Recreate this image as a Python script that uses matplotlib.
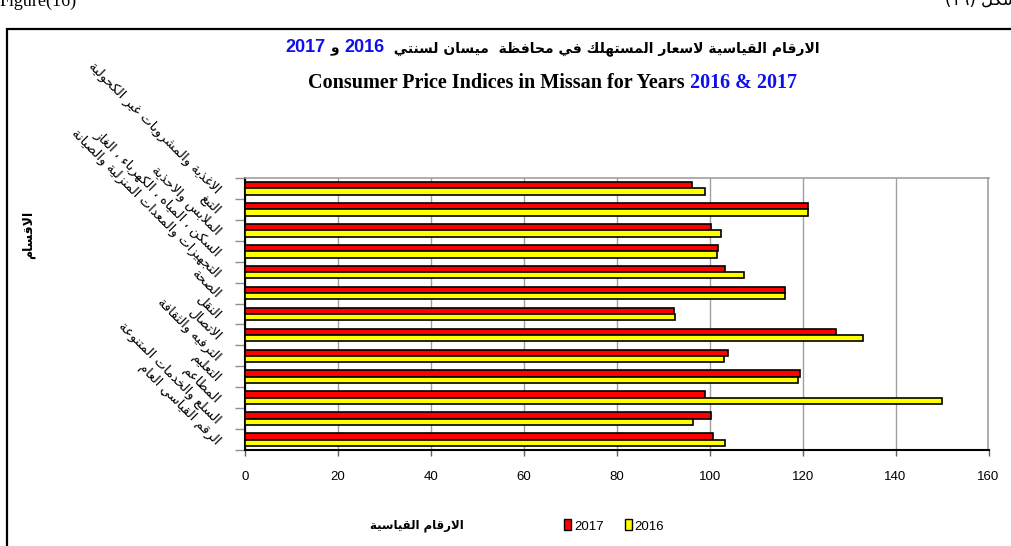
import matplotlib
matplotlib.use("Agg")
import matplotlib.pyplot as plt
import numpy as np
from matplotlib.patches import Patch, Rectangle

# ---------------- data ----------------
categories = [
    "الاغذية والمشروبات غير الكحولية",
    "التبغ",
    "الملابس والاحذية",
    "السكن ، المياه ، الكهرباء ، الغاز",
    "التجهيزات والمعدات المنزلية والصيانة",
    "الصحة",
    "النقل",
    "الاتصال",
    "الترفيه والثقافة",
    "التعليم",
    "المطاعم",
    "السلع والخدمات المتنوعة",
    "الرقم القياسي العام",
]
values_2017 = [96.1, 121.1, 100.3, 101.8, 103.4, 116.1, 92.4, 127.2, 104.0, 119.5, 98.9, 100.2, 100.8]
values_2016 = [98.9, 121.1, 102.4, 101.5, 107.4, 116.1, 92.6, 132.9, 103.1, 119.1, 150.0, 96.5, 103.4]
series_labels = ["2017", "2016"]
x_ticks = [0, 20, 40, 60, 80, 100, 120, 140, 160]

title_ar = "الارقام القياسية لاسعار المستهلك في محافظة  ميسان لسنتي"
title_en = "Consumer Price Indices in Missan for Years "
title_years_en = "2016 & 2017"
xlabel_ar = "الارقام القياسية"
ylabel_ar = "الاقسام"

# ---------------- minimal Arabic shaping ----------------
_TWO = {'\u0622': 0xFE81, '\u0623': 0xFE83, '\u0624': 0xFE85, '\u0625': 0xFE87,
        '\u0627': 0xFE8D, '\u0629': 0xFE93, '\u062F': 0xFEA9, '\u0630': 0xFEAB,
        '\u0631': 0xFEAD, '\u0632': 0xFEAF, '\u0648': 0xFEED, '\u0649': 0xFEEF}
_FOUR = {'\u0626': 0xFE89, '\u0628': 0xFE8F, '\u062A': 0xFE95, '\u062B': 0xFE99,
         '\u062C': 0xFE9D, '\u062D': 0xFEA1, '\u062E': 0xFEA5, '\u0633': 0xFEB1,
         '\u0634': 0xFEB5, '\u0635': 0xFEB9, '\u0636': 0xFEBD, '\u0637': 0xFEC1,
         '\u0638': 0xFEC5, '\u0639': 0xFEC9, '\u063A': 0xFECD, '\u0641': 0xFED1,
         '\u0642': 0xFED5, '\u0643': 0xFED9, '\u0644': 0xFEDD, '\u0645': 0xFEE1,
         '\u0646': 0xFEE5, '\u0647': 0xFEE9, '\u064A': 0xFEF1}
_NONE = {'\u0621': 0xFE80}
_LAMALEF = {'\u0627': 0xFEFB, '\u0623': 0xFEF7, '\u0625': 0xFEF9, '\u0622': 0xFEF5}


def shape(s):
    units = []
    i = 0
    while i < len(s):
        c = s[i]
        if c == '\u0644' and i + 1 < len(s) and s[i + 1] in _LAMALEF:
            units.append(('LA', s[i + 1]))
            i += 2
            continue
        units.append((c, None))
        i += 1

    def fwd(u):
        return u[0] in _FOUR

    def back(u):
        return u[0] == 'LA' or u[0] in _TWO or u[0] in _FOUR

    out = []
    for k, u in enumerate(units):
        c, a = u
        prev = units[k - 1] if k > 0 else None
        nxt = units[k + 1] if k + 1 < len(units) else None
        p = prev is not None and fwd(prev) and back(u)
        n = nxt is not None and fwd(u) and back(nxt)
        if c == 'LA':
            out.append(chr(_LAMALEF[a] + (1 if p else 0)))
        elif c in _FOUR:
            out.append(chr(_FOUR[c] + (3 if (p and n) else 1 if p else 2 if n else 0)))
        elif c in _TWO:
            out.append(chr(_TWO[c] + (1 if p else 0)))
        elif c in _NONE:
            out.append(chr(_NONE[c]))
        else:
            out.append(c)
    return ''.join(out)[::-1]


SANS = ['Liberation Sans', 'DejaVu Sans']
SERIF = ['Liberation Serif', 'DejaVu Serif']
ARAB = ['DejaVu Sans']
plt.rcParams['font.family'] = SANS

RED = '#ff0000'
YEL = '#ffff00'
BLUE = '#1010e8'

W, H = 1012, 546
fig = plt.figure(figsize=(W / 100, H / 100), dpi=100)
fig.patch.set_facecolor('white')

ax = fig.add_axes([245 / W, 1 - 450 / H, (988.5 - 245) / W, (450 - 178) / H])

n = len(categories)
y = np.arange(n)
bh = 0.3
ax.barh(y - bh / 2, values_2017, height=bh, color=RED, edgecolor='black', linewidth=1.2,
        label=series_labels[0], zorder=3)
ax.barh(y + bh / 2, values_2016, height=bh, color=YEL, edgecolor='black', linewidth=1.2,
        label=series_labels[1], zorder=3)

ax.set_xlim(0, 160)
ax.set_ylim(n - 0.5, -0.5)
ax.set_xticks(x_ticks)
ax.set_xticklabels([str(t) for t in x_ticks], fontsize=9.5)
ax.set_yticks(np.arange(n + 1) - 0.5)
ax.set_yticklabels([])
ax.tick_params(axis='y', length=7, width=1, color='#909090', direction='out')
ax.tick_params(axis='x', length=4, width=1, color='#606060', direction='out', pad=11)
ax.xaxis.grid(True, color='#a0a0a0', linewidth=1, zorder=0)
ax.set_axisbelow(True)
for s in ['top', 'right']:
    ax.spines[s].set_color('#a0a0a0')
    ax.spines[s].set_linewidth(1.2)
for s in ['left', 'bottom']:
    ax.spines[s].set_color('black')
    ax.spines[s].set_linewidth(1.5)

# category labels (rotated)
for i, cat in enumerate(categories):
    ax.annotate(shape(cat), xy=(0, i), xycoords=('axes fraction', 'data'),
                xytext=(-27, -3), textcoords='offset pixels',
                rotation=-45, rotation_mode='anchor', ha='right', va='center',
                fontsize=9.5, family=ARAB)

# axis labels
fig.text(417 / W, 1 - 526 / H, shape(xlabel_ar), ha='center', va='center',
         fontsize=8.5, fontweight='bold', family=ARAB)
fig.text(28 / W, 1 - 235 / H, shape(ylabel_ar), ha='center', va='center', rotation=90,
         fontsize=9, fontweight='bold', family=ARAB)

# legend
handles = [Patch(facecolor=RED, edgecolor='black', linewidth=1.0),
           Patch(facecolor=YEL, edgecolor='black', linewidth=1.0)]
fig.legend(handles, series_labels, loc='center', bbox_to_anchor=(614 / W, 1 - 526 / H),
           ncol=2, frameon=False, fontsize=9.5, handlelength=0.55, handleheight=0.9,
           handletextpad=0.2, columnspacing=1.6)

# outer frame
fig.add_artist(Rectangle((7 / W, -0.05), 1.2, 1 - 29 / H + 0.05, transform=fig.transFigure,
                         fill=False, edgecolor='black', linewidth=1.6))

# clipped page header texts
fig.text(0.0, 1 - 6 / H, 'Figure(16)', ha='left', va='baseline', fontsize=13, family=SERIF)
fig.text(945 / W, 1 - 5 / H, '(١٦) ' + shape('شكل'), ha='left', va='baseline', fontsize=12,
         family=ARAB)


# -------- multi-colour title rows --------
def row(parts, base_px, right_px):
    fig.canvas.draw()
    r = fig.canvas.get_renderer()
    texts = []
    for s, col, kw in parts:
        t = fig.text(0, 1 - base_px / H, s, color=col, ha='left', va='baseline', **kw)
        texts.append(t)
    widths = [t.get_window_extent(renderer=r).width for t in texts]
    x = right_px - sum(widths)
    for t, w in zip(texts, widths):
        t.set_x(x / W)
        x += w


bold_num = dict(fontsize=13, fontweight='bold', family=SANS)
bold_ar = dict(fontsize=10, fontweight='bold', family=ARAB)
row([("2017", BLUE, bold_num),
     (" " + shape("و") + " ", 'black', bold_ar),
     ("2016", BLUE, bold_num),
     ("  " + shape(title_ar), 'black', bold_ar)],
    base_px=52, right_px=820)

bold_serif = dict(fontsize=14.5, fontweight='bold', family=SERIF)
row([(title_en, 'black', bold_serif),
     (title_years_en, BLUE, bold_serif)],
    base_px=88, right_px=797)

fig.savefig('out.png', dpi=100)
